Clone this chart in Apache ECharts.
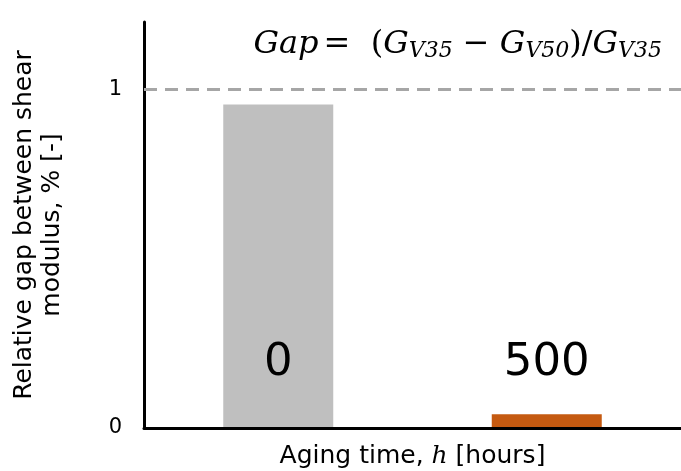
<!DOCTYPE html>
<html>
<head>
<meta charset="utf-8">
<script src="https://cdn.jsdelivr.net/npm/echarts@6/dist/echarts.min.js"></script>
<style>
html, body { margin: 0; padding: 0; background: #fff; }
#main { width: 681px; height: 471px; }
</style>
</head>
<body>
<div id="main"></div>
<script>
var agingTimes = ['0', '500'];
var gapValues = [0.956, 0.041];
var barColors = ['#bfbfbf', '#c55a11'];
var yTicks = [0, 1];
var refLine = 1;

var chart = echarts.init(document.getElementById('main'));

var sans = 'DejaVu Sans';
var serif = 'DejaVu Serif';

chart.setOption({
    animation: false,
    grid: { left: 144, right: 0, top: 22, bottom: 43, containLabel: false, outerBoundsMode: 'none' },
    title: {
        text: '{i|Gap} {n|=  (}{i|G}{s|V35}{n| − }{i|G}{s|V50}{n|)/}{i|G}{s|V35}',
        right: 14,
        top: 22,
        textStyle: {
            fontWeight: 'normal',
            rich: {
                i: { fontFamily: serif, fontStyle: 'italic', fontWeight: 'normal', fontSize: 32, color: '#000' },
                n: { fontFamily: serif, fontWeight: 'normal', fontSize: 32, color: '#000' },
                s: { fontFamily: serif, fontStyle: 'italic', fontWeight: 'normal', fontSize: 22, color: '#000', padding: [13, 0, 0, 0] }
            }
        }
    },
    xAxis: {
        type: 'category',
        data: agingTimes,
        z: 10,
        name: '{a|Aging time, }{h|h}{a| [hours]}',
        nameLocation: 'middle',
        nameGap: 16,
        nameTextStyle: {
            verticalAlign: 'top',
            rich: {
                a: { fontFamily: sans, fontSize: 25, color: '#000' },
                h: { fontFamily: serif, fontStyle: 'italic', fontSize: 25, color: '#000' }
            }
        },
        axisLine: { lineStyle: { color: '#000', width: 3 } },
        axisTick: { show: false },
        axisLabel: {
            inside: true,
            margin: 42,
            fontFamily: sans,
            fontSize: 45,
            color: '#000'
        }
    },
    yAxis: {
        type: 'value',
        min: 0,
        max: 1.2,
        interval: 1,
        name: 'Relative gap between shear\nmodulus, % [-]',
        nameLocation: 'middle',
        nameGap: 78,
        nameTextStyle: { fontFamily: sans, fontSize: 25, color: '#000', lineHeight: 28 },
        axisLine: { show: true, lineStyle: { color: '#000', width: 3 } },
        axisTick: { show: false },
        splitLine: { show: false },
        axisLabel: {
            margin: 22,
            fontFamily: sans,
            fontSize: 21,
            color: '#000',
            formatter: function (v) { return yTicks.indexOf(v) >= 0 ? String(v) : ''; }
        }
    },
    series: [{
        type: 'bar',
        barWidth: 110,
        data: gapValues.map(function (v, i) {
            return { value: v, itemStyle: { color: barColors[i] } };
        }),
        markLine: {
            silent: true,
            symbol: 'none',
            label: { show: false },
            lineStyle: { color: '#a6a6a6', width: 3, type: [13, 8] },
            data: [{ yAxis: refLine }]
        }
    }]
});
</script>
</body>
</html>
